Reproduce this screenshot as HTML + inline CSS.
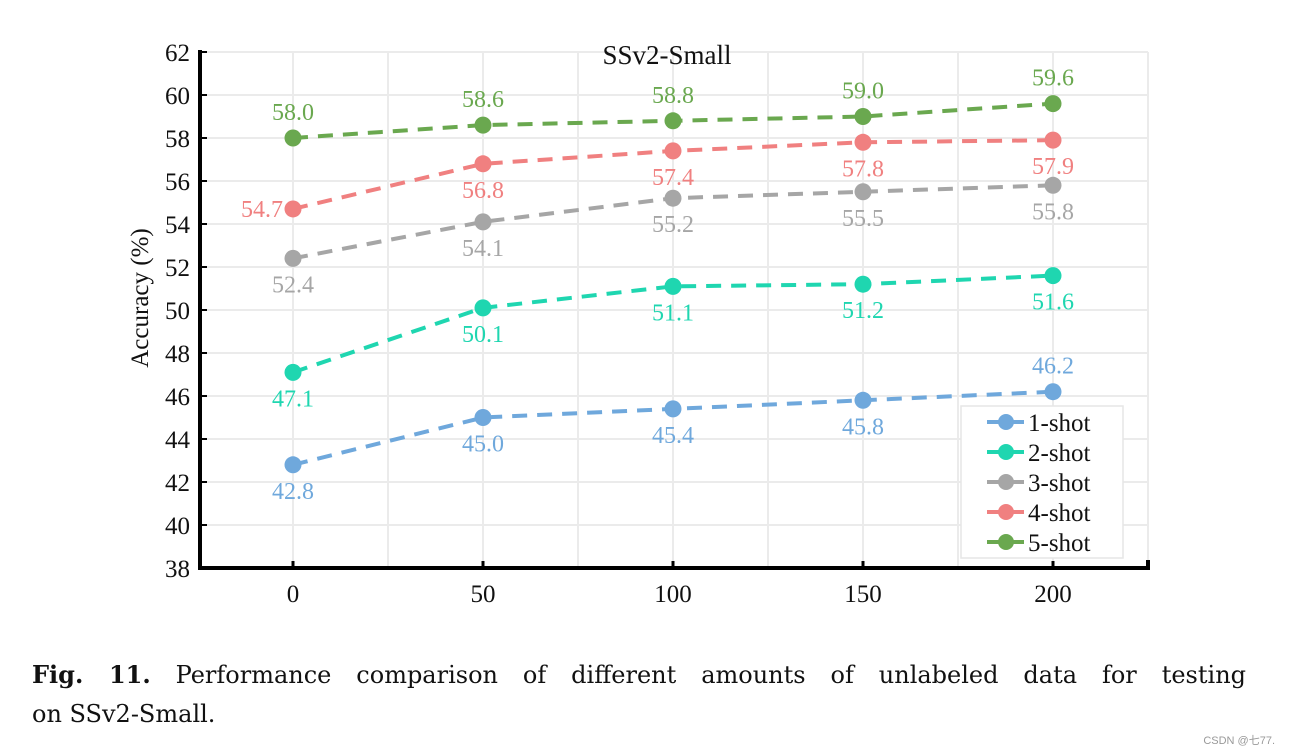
<!DOCTYPE html>
<html><head><meta charset="utf-8"><style>
body{margin:0;background:#fff;width:1289px;height:754px;overflow:hidden;font-family:"Liberation Serif",serif}
svg text{font-family:"Liberation Serif",serif}
.cap{position:absolute;left:32px;top:656px;width:1214px;font-family:"DejaVu Serif",serif;font-size:24px;line-height:37px;text-align:justify;text-align-last:justify;color:#111}
.cap2{position:absolute;left:32px;top:700px;font-family:"DejaVu Serif",serif;font-size:24px;color:#111}
.wm{position:absolute;right:14px;top:732px;font-family:"Liberation Sans",sans-serif;font-size:11px;color:#999}
</style></head><body>
<svg id="chart" width="1289" height="640" style="position:absolute;left:0;top:0"></svg>
<div class="cap"><b>Fig. 11.</b> Performance comparison of different amounts of unlabeled data for testing</div>
<div class="cap2">on SSv2-Small.</div>
<div class="wm">CSDN @七77.</div>
<script>
const xCats=[0,50,100,150,200];
const s1=[42.8,45.0,45.4,45.8,46.2];
const s2=[47.1,50.1,51.1,51.2,51.6];
const s3=[52.4,54.1,55.2,55.5,55.8];
const s4=[54.7,56.8,57.4,57.8,57.9];
const s5=[58.0,58.6,58.8,59.0,59.6];
const seriesNames=["1-shot","2-shot","3-shot","4-shot","5-shot"];
const yTicks=[38,40,42,44,46,48,50,52,54,56,58,60,62];
const xTicks=[0,50,100,150,200];
const colors=["#6fa8dc","#1fd6b0","#a6a6a6","#f08080","#6aa84f"];
const svg=document.getElementById('chart');
const NS='http://www.w3.org/2000/svg';
const X=v=>293+v*3.8, Y=v=>568-(v-38)*21.5;
function el(t,a,p){const e=document.createElementNS(NS,t);for(const k in a)e.setAttribute(k,a[k]);(p||svg).appendChild(e);return e;}
for(let v=0;v<=225;v+=25){const g=el('line',{x1:X(v),x2:X(v),y1:Y(62),y2:Y(38),stroke:'#ebebeb','stroke-width':2});

}
yTicks.forEach(v=>{const g=el('line',{x1:200,x2:1148,y1:Y(v),y2:Y(v),stroke:'#ebebeb','stroke-width':2});


const tk=el('line',{x1:200,x2:207,y1:Y(v),y2:Y(v),stroke:'#000','stroke-width':2});


const t=el('text',{x:190,y:Y(v)+9,'text-anchor':'end','font-size':25,fill:'#111'});t.textContent=v;

});
xTicks.forEach(v=>{const tk=el('line',{x1:X(v),x2:X(v),y1:568,y2:561,stroke:'#000','stroke-width':3});


const t=el('text',{x:X(v),y:602,'text-anchor':'middle','font-size':25,fill:'#111'});t.textContent=v;

});
const ax=el('path',{d:'M200,50 V568 H1148 V560',fill:'none',stroke:'#000','stroke-width':4});


const ti=el('text',{x:667,y:64,'text-anchor':'middle','font-size':27,fill:'#111'});ti.textContent='SSv2-Small';


const yl=el('text',{x:0,y:0,'text-anchor':'middle','font-size':25,fill:'#111',transform:'translate(148,298) rotate(-90)'});yl.textContent='Accuracy (%)';


const all=[s1,s2,s3,s4,s5];
const place=[[-1,-1,-1,-1,1],[-1,-1,-1,-1,-1],[-1,-1,-1,-1,-1],['L',-1,-1,-1,-1],[1,1,1,1,1]];
all.forEach((s,i)=>{
 const p=el('polyline',{points:s.map((v,j)=>X(xCats[j])+','+Y(v)).join(' '),fill:'none',stroke:colors[i],'stroke-width':4,'stroke-dasharray':'15,10'});
 
 
 s.forEach((v,j)=>{const c=el('circle',{cx:X(xCats[j]),cy:Y(v),r:8.5,fill:colors[i]});
  
  
  const pl=place[i][j];let tx=X(xCats[j]),ty,an='middle';
  if(pl==='L'){tx-=10;ty=Y(v)+8;an='end';}else if(pl===1)ty=Y(v)-18;else ty=Y(v)+34;
  const t=el('text',{x:tx,y:ty,'text-anchor':an,'font-size':24,fill:colors[i]});t.textContent=v.toFixed(1);
  
  });
});
const lg=el('rect',{x:961,y:406,width:162,height:152,fill:'#fff',stroke:'#e6e6e6','stroke-width':1.5});


seriesNames.forEach((n,i)=>{const y=422+i*30;
 const l=el('line',{x1:987,x2:1024,y1:y,y2:y,stroke:colors[i],'stroke-width':4});
 
 
 const c=el('circle',{cx:1006,cy:y,r:8,fill:colors[i]});
 
 
 const t=el('text',{x:1028,y:y+9,'font-size':25,fill:'#111'});t.textContent=n;
 
 });
</script>
</body></html>
